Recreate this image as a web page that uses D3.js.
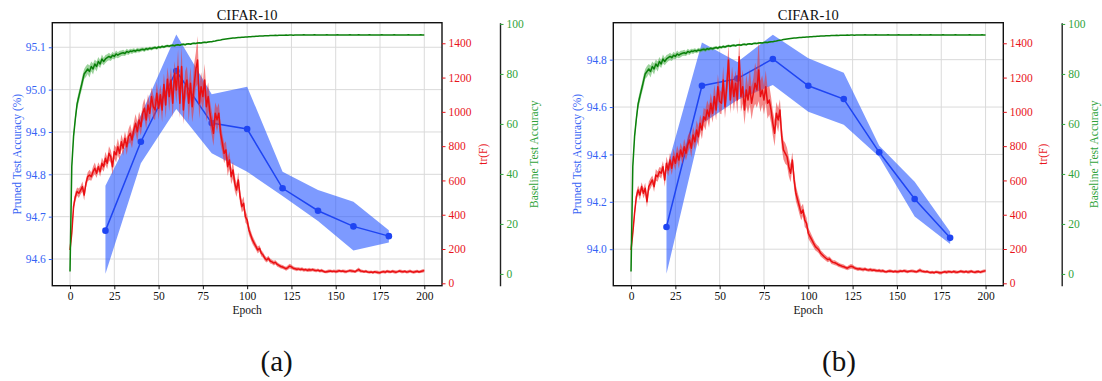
<!DOCTYPE html>
<html>
<head>
<meta charset="utf-8">
<script src="https://cdn.jsdelivr.net/npm/d3@7"></script>
<style>
  body { margin: 0; background: #fff; }
  svg { display: block; }
  text { font-family: "Liberation Serif", "Times New Roman", serif; }
</style>
</head>
<body>
<svg id="chart" width="1102" height="381"></svg>
<script>
// ---- data -------------------------------------------------------------
const epochs = d3.range(0, 201);
const pruneEpochs = [20, 40, 60, 80, 100, 120, 140, 160, 180];
const xTicks = [0, 25, 50, 75, 100, 125, 150, 175, 200];
const trTicks = [0, 200, 400, 600, 800, 1000, 1200, 1400];
const baseTicks = [0, 20, 40, 60, 80, 100];
const accTicksA = [94.6, 94.7, 94.8, 94.9, 95.0, 95.1];
const accTicksB = [94.0, 94.2, 94.4, 94.6, 94.8];

// pruned test accuracy (mean and min/max over runs)
const accMeanA = [94.667, 94.877, 95.044, 94.921, 94.907, 94.767, 94.714, 94.677, 94.654];
const accHighA = [94.773, 94.940, 95.130, 94.989, 95.007, 94.806, 94.763, 94.735, 94.668];
const accLowA  = [94.565, 94.826, 94.954, 94.850, 94.806, 94.749, 94.690, 94.620, 94.639];

const accMeanB = [94.094, 94.690, 94.720, 94.803, 94.690, 94.634, 94.409, 94.212, 94.048];
const accHighB = [94.335, 94.872, 94.790, 94.905, 94.806, 94.745, 94.437, 94.285, 94.074];
const accLowB  = [93.896, 94.530, 94.630, 94.693, 94.580, 94.525, 94.390, 94.138, 94.022];

// trace of the Fisher information per epoch
const trA = [
  194, 292, 447, 505, 535, 525, 544, 564, 515, 583,
  622, 632, 622, 651, 671, 642, 680, 651, 700, 680,
  729, 700, 758, 739, 680, 768, 749, 797, 758, 826,
  788, 846, 797, 855, 875, 836, 894, 933, 884, 953,
  914, 992, 1021, 953, 1040, 992, 1089, 1030, 1011, 1108,
  1021, 1100, 1011, 1160, 1040, 1190, 1089, 1186, 1050, 1225,
  1128, 1264, 1050, 1264, 1011, 1147, 1186, 1050, 1167, 1030,
  1147, 1244, 1303, 1050, 1147, 1089, 1186, 1030, 1089, 992,
  933, 875, 992, 953, 992, 875, 817, 758, 778, 680,
  719, 622, 661, 583, 544, 603, 505, 447, 467, 389,
  369, 311, 282, 253, 233, 214, 194, 204, 175, 165,
  146, 136, 146, 130, 125, 118, 122, 110, 104, 98,
  95, 90, 85, 92, 100, 96, 88, 85, 82, 84,
  80, 83, 78, 80, 76, 79, 77, 80, 76, 74,
  77, 72, 75, 70, 66, 68, 70, 72, 69, 71,
  68, 70, 73, 70, 72, 69, 68, 71, 74, 72,
  70, 68, 75, 80, 72, 70, 68, 70, 66, 64,
  66, 63, 67, 65, 63, 62, 66, 68, 65, 70,
  68, 66, 70, 67, 65, 68, 72, 69, 67, 70,
  66, 68, 71, 67, 65, 68, 70, 66, 69, 72,
  74
];
const trSpreadA = [
  12, 18, 25, 28, 24, 28, 24, 30, 32, 26,
  26, 30, 24, 30, 34, 28, 26, 30, 34, 30,
  38, 34, 42, 38, 48, 40, 44, 48, 40, 44,
  44, 40, 48, 44, 52, 48, 44, 54, 58, 48,
  52, 50, 58, 54, 62, 58, 54, 68, 60, 64,
  68, 60, 72, 64, 78, 70, 88, 74, 84, 70,
  80, 98, 88, 118, 84, 90, 80, 108, 94, 90,
  128, 100, 140, 90, 84, 80, 94, 88, 84, 74,
  70, 74, 64, 70, 60, 64, 54, 58, 50, 54,
  50, 44, 50, 44, 40, 44, 40, 34, 40, 34,
  30, 30, 26, 24, 22, 20, 20, 18, 18, 16,
  16, 15, 14, 15, 13, 14, 12, 13, 12, 12,
  12, 11, 12, 13, 14, 12, 11, 10, 11, 10,
  10, 11, 10, 9, 10, 11, 10, 9, 10, 9,
  10, 9, 10, 9, 8, 9, 10, 9, 8, 9,
  9, 10, 9, 8, 9, 10, 9, 8, 9, 10,
  9, 8, 10, 12, 10, 9, 8, 9, 8, 9,
  8, 9, 8, 9, 10, 9, 8, 9, 10, 9,
  9, 8, 9, 10, 9, 8, 9, 10, 9, 8,
  9, 10, 9, 8, 9, 10, 9, 8, 9, 10,
  9
];

const trB = [
  194, 293, 410, 505, 544, 515, 564, 525, 554, 476,
  564, 583, 603, 564, 632, 622, 651, 642, 680, 603,
  700, 661, 719, 671, 739, 700, 758, 719, 778, 739,
  797, 758, 807, 836, 788, 865, 826, 894, 855, 933,
  894, 972, 953, 1011, 972, 1050, 992, 1089, 1011, 1147,
  1060, 1050, 1186, 1030, 1147, 1303, 1069, 1186, 1089, 1167,
  1069, 1322, 1089, 1147, 1011, 1128, 1069, 1147, 1050, 1108,
  1167, 1128, 1244, 1089, 1128, 1069, 1147, 1050, 1069, 1011,
  933, 875, 992, 953, 1011, 855, 778, 758, 739, 680,
  642, 719, 603, 525, 486, 447, 408, 428, 369, 350,
  292, 272, 253, 233, 214, 204, 194, 175, 165, 155,
  146, 138, 142, 128, 122, 120, 115, 108, 104, 100,
  97, 92, 88, 94, 99, 97, 90, 86, 83, 85,
  82, 80, 83, 79, 77, 80, 76, 78, 75, 73,
  75, 71, 73, 69, 67, 70, 72, 70, 68, 70,
  67, 69, 72, 70, 73, 70, 68, 70, 72, 71,
  69, 67, 72, 76, 71, 69, 67, 69, 65, 63,
  65, 62, 66, 64, 62, 61, 65, 67, 64, 68,
  67, 65, 69, 66, 64, 67, 70, 68, 66, 69,
  65, 67, 70, 66, 64, 67, 69, 65, 68, 71,
  73
];
const trSpreadB = [
  12, 18, 26, 28, 26, 30, 26, 30, 32, 34,
  28, 30, 26, 32, 34, 30, 28, 32, 34, 40,
  40, 36, 44, 40, 46, 42, 46, 50, 42, 46,
  46, 42, 50, 46, 54, 50, 46, 56, 58, 50,
  54, 52, 60, 56, 64, 60, 56, 70, 62, 72,
  70, 64, 80, 68, 84, 96, 80, 78, 86, 74,
  84, 110, 90, 100, 86, 92, 82, 104, 96, 90,
  120, 104, 180, 92, 86, 84, 96, 90, 84, 76,
  72, 76, 66, 70, 62, 66, 56, 60, 52, 56,
  52, 46, 52, 46, 42, 44, 40, 36, 40, 34,
  30, 30, 26, 24, 22, 20, 20, 18, 18, 16,
  16, 15, 14, 15, 13, 14, 12, 13, 12, 12,
  12, 11, 12, 13, 14, 12, 11, 10, 11, 10,
  10, 11, 10, 9, 10, 11, 10, 9, 10, 9,
  10, 9, 10, 9, 8, 9, 10, 9, 8, 9,
  9, 10, 9, 8, 9, 10, 9, 8, 9, 10,
  9, 8, 10, 12, 10, 9, 8, 9, 8, 9,
  8, 9, 8, 9, 10, 9, 8, 9, 10, 9,
  9, 8, 9, 10, 9, 8, 9, 10, 9, 8,
  9, 10, 9, 8, 9, 10, 9, 8, 9, 10,
  9
];

// baseline (unpruned) test accuracy per epoch
const baseAcc = [
  1, 43, 55, 62, 68, 71, 74, 77, 80, 81,
  82, 81, 83, 82, 84, 83, 85, 84, 86, 85,
  86, 86.5, 87, 86.5, 87.5, 87, 88, 87.5, 88, 88.3,
  88.5, 88.2, 89, 88.6, 89.2, 89, 89.4, 89.1, 89.6, 89.4,
  89.7, 89.9, 89.6, 90.1, 89.9, 90.3, 90.1, 90.4, 90.6, 90.3,
  90.8, 90.6, 91, 90.8, 91.1, 91.3, 91.1, 91.4, 91.5, 91.3,
  91.6, 91.7, 91.5, 91.8, 91.9, 91.7, 92, 92.1, 91.9, 92.2,
  92.3, 92.2, 92.4, 92.5, 92.4, 92.6, 92.7, 92.6, 92.8, 92.9,
  92.9, 93.1, 93.2, 93.4, 93.5, 93.6, 93.8, 93.9, 94, 94.1,
  94.2, 94.3, 94.4, 94.4, 94.5, 94.6, 94.6, 94.7, 94.7, 94.8,
  94.8, 94.9, 94.9, 95, 95, 95.1, 95.1, 95.2, 95.2, 95.2,
  95.3, 95.3, 95.3, 95.4, 95.4, 95.4, 95.5, 95.4, 95.5, 95.5,
  95.5, 95.5, 95.6, 95.5, 95.6, 95.6, 95.5, 95.6, 95.6, 95.6,
  95.6, 95.6, 95.65, 95.6, 95.6, 95.55, 95.6, 95.6, 95.65, 95.6,
  95.6, 95.6, 95.55, 95.6, 95.6, 95.65, 95.6, 95.6, 95.6, 95.55,
  95.6, 95.65, 95.6, 95.6, 95.6, 95.6, 95.55, 95.6, 95.65, 95.6,
  95.6, 95.6, 95.6, 95.65, 95.6, 95.55, 95.6, 95.6, 95.6, 95.65,
  95.6, 95.6, 95.55, 95.6, 95.6, 95.6, 95.65, 95.6, 95.6, 95.6,
  95.55, 95.6, 95.6, 95.65, 95.6, 95.6, 95.6, 95.55, 95.6, 95.6,
  95.6, 95.65, 95.6, 95.6, 95.6, 95.55, 95.6, 95.6, 95.65, 95.6,
  95.6
];
// run-to-run spread of the baseline during early training
const baseSpread = [
  0, 1.2, 1.5, 1.8, 2, 2.2, 2, 2.4, 2, 2.2,
  2, 2.4, 2, 2.2, 1.8, 2, 1.8, 1.6, 1.8, 1.5,
  1.6, 1.4, 1.5, 1.3, 1.4, 1.2, 1.4, 1.2, 1.3, 1.1,
  1.2, 1, 1.1, 1, 0.9, 1, 0.9, 0.8, 0.9, 0.8,
  0.8, 0.7, 0.8, 0.7, 0.7, 0.6, 0.7, 0.6, 0.6, 0.6,
  0.6, 0.5, 0.6, 0.5, 0.5, 0.5, 0.5, 0.4, 0.5, 0.4,
  0.4, 0.4, 0.4, 0.35, 0.4, 0.35, 0.35, 0.3, 0.35, 0.3,
  0.3, 0.3, 0.3, 0.3, 0.3, 0.3, 0.3, 0.3, 0.3, 0.3
];

// ---- layout -----------------------------------------------------------
const TOP = 22.7, BOTTOM = 285.7;
const C = {
  blue: "#1f45f2", blueBand: "#2757ff", blueText: "#3563f5",
  red: "#ea0f12", redBand: "#ee3434", redText: "#e8141c",
  green: "#0b800b", greenBand: "#4cae4c", greenText: "#2fa33a",
  grid: "#dadada"
};

const panels = [
  { left: 52.3, right: 442, greenX: 500,
    mean: accMeanA, hi: accHighA, lo: accLowA,
    accDomain: [94.537, 95.158], accTicks: accTicksA,
    tr: trA, trSpread: trSpreadA,
    caption: "(a)", captionX: 276.7,
    accLabelX: 20.5, trLabelX: 486.5, baseLabelX: 538.3 },
  { left: 613.3, right: 1003.3, greenX: 1061.7,
    mean: accMeanB, hi: accHighB, lo: accLowB,
    accDomain: [93.846, 94.956], accTicks: accTicksB,
    tr: trB, trSpread: trSpreadB,
    caption: "(b)", captionX: 839,
    accLabelX: 581, trLabelX: 1046.5, baseLabelX: 1098 }
];

const svg = d3.select("#chart");

function styleAxis(g, color, fontSize) {
  g.selectAll("text")
    .attr("fill", color)
    .style("font-family", '"Liberation Serif","Times New Roman",serif')
    .style("font-size", fontSize + "px");
  g.selectAll(".tick line").attr("stroke", color).attr("stroke-width", 1);
}

function drawPanel(p) {
  const g = svg.append("g");
  const x = d3.scaleLinear().domain([-10, 210]).range([p.left, p.right]);
  const yAcc = d3.scaleLinear().domain(p.accDomain).range([BOTTOM, TOP]);
  const yTr = d3.scaleLinear().domain([-14, 1520]).range([BOTTOM, TOP]);
  const yBase = d3.scaleLinear().domain([-4.7, 100.5]).range([BOTTOM, TOP]);

  // grid
  g.append("g").selectAll("line").data(xTicks).join("line")
    .attr("x1", d => x(d)).attr("x2", d => x(d))
    .attr("y1", TOP).attr("y2", BOTTOM)
    .attr("stroke", C.grid).attr("stroke-width", 1);
  g.append("g").selectAll("line").data(p.accTicks).join("line")
    .attr("x1", p.left).attr("x2", p.right)
    .attr("y1", d => yAcc(d)).attr("y2", d => yAcc(d))
    .attr("stroke", C.grid).attr("stroke-width", 1);

  // pruned accuracy: band, line, markers
  const accArea = d3.area()
    .x((d, i) => x(pruneEpochs[i]))
    .y0((d, i) => yAcc(p.lo[i]))
    .y1((d, i) => yAcc(p.hi[i]));
  g.append("path").datum(p.mean).attr("d", accArea)
    .attr("fill", C.blueBand).attr("fill-opacity", 0.6);
  const accLine = d3.line().x((d, i) => x(pruneEpochs[i])).y(d => yAcc(d));
  g.append("path").datum(p.mean).attr("d", accLine)
    .attr("fill", "none").attr("stroke", C.blue).attr("stroke-width", 1.5);
  g.append("g").selectAll("circle").data(p.mean).join("circle")
    .attr("cx", (d, i) => x(pruneEpochs[i])).attr("cy", d => yAcc(d))
    .attr("r", 3.3).attr("fill", C.blue);

  // tr(F): band and line
  const trArea = d3.area()
    .x((d, i) => x(epochs[i]))
    .y0((d, i) => yTr(d - p.trSpread[i]))
    .y1((d, i) => yTr(d + p.trSpread[i]));
  g.append("path").datum(p.tr).attr("d", trArea)
    .attr("fill", C.redBand).attr("fill-opacity", 0.58);
  const trLine = d3.line().x((d, i) => x(epochs[i])).y(d => yTr(d));
  g.append("path").datum(p.tr).attr("d", trLine)
    .attr("fill", "none").attr("stroke", C.red).attr("stroke-width", 1.5)
    .attr("stroke-linejoin", "round");

  // baseline accuracy: band and line
  const baseArea = d3.area()
    .x((d, i) => x(epochs[i]))
    .y0((d, i) => yBase(baseAcc[i] - d))
    .y1((d, i) => yBase(baseAcc[i] + d));
  g.append("path").datum(baseSpread).attr("d", baseArea)
    .attr("fill", C.greenBand).attr("fill-opacity", 0.55);
  const baseLine = d3.line().x((d, i) => x(epochs[i])).y(d => yBase(d));
  g.append("path").datum(baseAcc).attr("d", baseLine)
    .attr("fill", "none").attr("stroke", C.green).attr("stroke-width", 1.5)
    .attr("stroke-linejoin", "round");

  // frame
  g.append("rect")
    .attr("x", p.left).attr("y", TOP)
    .attr("width", p.right - p.left).attr("height", BOTTOM - TOP)
    .attr("fill", "none").attr("stroke", "#111").attr("stroke-width", 1.4);

  // axes
  const fs = 11.5;
  const ax = g.append("g").attr("transform", `translate(0,${BOTTOM})`)
    .call(d3.axisBottom(x).tickValues(xTicks).tickFormat(d3.format("d"))
      .tickSize(3.5).tickSizeOuter(0).tickPadding(3));
  ax.select(".domain").remove();
  styleAxis(ax, "#111", fs);

  const ay = g.append("g").attr("transform", `translate(${p.left},0)`)
    .call(d3.axisLeft(yAcc).tickValues(p.accTicks).tickFormat(d3.format(".1f"))
      .tickSize(3.5).tickSizeOuter(0).tickPadding(3));
  ay.select(".domain").remove();
  styleAxis(ay, C.blueText, fs);

  const at = g.append("g").attr("transform", `translate(${p.right},0)`)
    .call(d3.axisRight(yTr).tickValues(trTicks).tickFormat(d3.format("d"))
      .tickSize(3.5).tickSizeOuter(0).tickPadding(3));
  at.select(".domain").remove();
  styleAxis(at, C.redText, fs);

  const ab = g.append("g").attr("transform", `translate(${p.greenX},0)`)
    .call(d3.axisRight(yBase).tickValues(baseTicks).tickFormat(d3.format("d"))
      .tickSize(3.5).tickSizeOuter(0).tickPadding(3));
  ab.select(".domain").attr("stroke", "#222").attr("stroke-width", 1.4);
  styleAxis(ab, C.greenText, fs);

  // labels
  const cx = (p.left + p.right) / 2, cy = (TOP + BOTTOM) / 2;
  g.append("text").attr("x", cx).attr("y", 19.5).attr("text-anchor", "middle")
    .attr("font-size", 14.5).attr("fill", "#111").text("CIFAR-10");
  g.append("text").attr("x", cx).attr("y", 314).attr("text-anchor", "middle")
    .attr("font-size", 11.5).attr("fill", "#111").text("Epoch");
  g.append("text").attr("transform", `translate(${p.accLabelX},${cy}) rotate(-90)`)
    .attr("text-anchor", "middle").attr("font-size", 11.5).attr("fill", C.blueText)
    .text("Pruned Test Accuracy (%)");
  g.append("text").attr("transform", `translate(${p.trLabelX},${cy}) rotate(-90)`)
    .attr("text-anchor", "middle").attr("font-size", 11.5).attr("fill", C.redText)
    .text("tr(F)");
  g.append("text").attr("transform", `translate(${p.baseLabelX},${cy}) rotate(-90)`)
    .attr("text-anchor", "middle").attr("font-size", 11.5).attr("fill", C.greenText)
    .text("Baseline Test Accuracy");

  // sub-figure caption
  svg.append("text").attr("x", p.captionX).attr("y", 371).attr("text-anchor", "middle")
    .attr("font-size", 29).attr("fill", "#111").text(p.caption);
}

panels.forEach(drawPanel);
</script>
</body>
</html>
